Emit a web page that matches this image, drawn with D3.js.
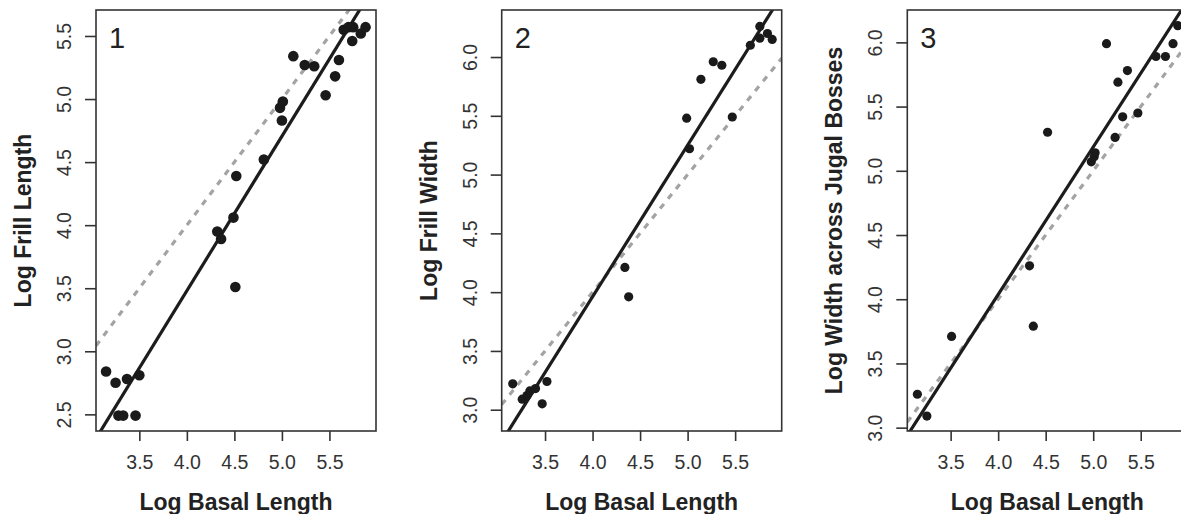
<!DOCTYPE html>
<html>
<head>
<meta charset="utf-8">
<script src="https://cdn.jsdelivr.net/npm/d3@7"></script>
<style>
  body { margin: 0; background: #fff; }
  text { font-family: "Liberation Sans", Arial, sans-serif; }
</style>
</head>
<body>
<div class="visHolder"></div>
<script>
// data (log values)
var basal1 = [3.15, 3.25, 3.37, 3.50, 3.28, 3.33, 3.46, 4.32, 4.36, 4.49, 4.52, 4.51, 4.81, 4.98, 5.01, 5.00, 5.12, 5.24, 5.34, 5.46, 5.56, 5.60, 5.65, 5.70, 5.75, 5.74, 5.83, 5.88];
var frillLength = [2.84, 2.75, 2.78, 2.81, 2.49, 2.49, 2.49, 3.95, 3.89, 4.06, 4.39, 3.51, 4.52, 4.93, 4.98, 4.83, 5.34, 5.27, 5.26, 5.03, 5.18, 5.31, 5.55, 5.57, 5.57, 5.46, 5.52, 5.57];

var basal2 = [3.16, 3.26, 3.31, 3.34, 3.40, 3.52, 3.47, 4.34, 4.38, 4.99, 5.02, 5.14, 5.27, 5.36, 5.47, 5.66, 5.76, 5.76, 5.84, 5.89];
var frillWidth = [3.22, 3.09, 3.12, 3.16, 3.18, 3.24, 3.05, 4.21, 3.96, 5.48, 5.22, 5.81, 5.96, 5.93, 5.49, 6.10, 6.26, 6.16, 6.20, 6.15];

var basal3 = [3.15, 3.25, 3.51, 4.33, 4.37, 4.52, 4.98, 5.01, 5.02, 5.14, 5.23, 5.26, 5.31, 5.36, 5.47, 5.66, 5.76, 5.84, 5.89];
var jugalWidth = [3.26, 3.09, 3.71, 4.26, 3.79, 5.30, 5.07, 5.11, 5.14, 5.99, 5.26, 5.69, 5.42, 5.78, 5.45, 5.89, 5.89, 5.99, 6.13];

// fitted lines [intercept, slope]; dashed line is isometry y = x
var fit1 = [-1.42, 1.225];
var fit2 = [-1.195, 1.289];
var fit3 = [-0.555, 1.148];
var iso = [0, 1];

var xTicks = [3.5, 4.0, 4.5, 5.0, 5.5];
var yTicks1 = [2.5, 3.0, 3.5, 4.0, 4.5, 5.0, 5.5];
var yTicks2 = [3.0, 3.5, 4.0, 4.5, 5.0, 5.5, 6.0];
var yTicks3 = [3.0, 3.5, 4.0, 4.5, 5.0, 5.5, 6.0];

var xDomain = [3.044, 5.99];
var yDomain1 = [2.368, 5.706];
var yDomain2 = [2.819, 6.40];
var yDomain3 = [2.974, 6.252];

var panels = [
  { id: 1, label: "1", xs: basal1, ys: frillLength, fit: fit1, yTicks: yTicks1, yDomain: yDomain1, ytitle: "Log Frill Length", left: 96, r: 5.3 },
  { id: 2, label: "2", xs: basal2, ys: frillWidth, fit: fit2, yTicks: yTicks2, yDomain: yDomain2, ytitle: "Log Frill Width", left: 501.7, r: 4.6 },
  { id: 3, label: "3", xs: basal3, ys: jugalWidth, fit: fit3, yTicks: yTicks3, yDomain: yDomain3, ytitle: "Log Width across Jugal Bosses", left: 907.3, r: 4.6 }
];

var W = 1181, H = 514;
var plotTop = 10, plotBottom = 431, pw = 280;

var svg = d3.select(".visHolder")
  .append("svg")
  .attr("width", W)
  .attr("height", H);

panels.forEach(function(p) {
  var x = d3.scaleLinear().domain(xDomain).range([p.left, p.left + pw]);
  var y = d3.scaleLinear().domain(p.yDomain).range([plotBottom, plotTop]);

  var g = svg.append("g");

  g.append("clipPath")
    .attr("id", "clip" + p.id)
    .append("rect")
    .attr("x", p.left).attr("y", plotTop)
    .attr("width", pw).attr("height", plotBottom - plotTop);

  var plot = g.append("g").attr("clip-path", "url(#clip" + p.id + ")");

  // lines
  function lineFor(c) {
    return [[xDomain[0], c[0] + c[1] * xDomain[0]], [xDomain[1], c[0] + c[1] * xDomain[1]]];
  }
  var line = d3.line().x(function(d) { return x(d[0]); }).y(function(d) { return y(d[1]); });

  plot.append("path")
    .attr("d", line(lineFor(iso)))
    .attr("fill", "none")
    .attr("stroke", "#a3a3a3")
    .attr("stroke-width", 3.2)
    .attr("stroke-dasharray", "6,6.6");

  plot.append("path")
    .attr("d", line(lineFor(p.fit)))
    .attr("fill", "none")
    .attr("stroke", "#1c1c1c")
    .attr("stroke-width", 3.2);

  plot.selectAll(".dot")
    .data(p.xs.map(function(v, i) { return [v, p.ys[i]]; }))
    .enter()
    .append("circle")
    .attr("class", "dot")
    .attr("cx", function(d) { return x(d[0]); })
    .attr("cy", function(d) { return y(d[1]); })
    .attr("r", p.r)
    .style("fill", "#1a1a1a");

  // box
  g.append("rect")
    .attr("x", p.left).attr("y", plotTop)
    .attr("width", pw).attr("height", plotBottom - plotTop)
    .attr("fill", "none")
    .attr("stroke", "#333")
    .attr("stroke-width", 1.6);

  // x axis
  var xa = g.append("g")
    .attr("transform", "translate(0," + plotBottom + ")")
    .call(d3.axisBottom(x).tickValues(xTicks).tickSize(10).tickSizeOuter(0).tickFormat(d3.format(".1f")));
  xa.select(".domain").remove();
  xa.selectAll(".tick line").attr("stroke", "#333").attr("stroke-width", 1.6);
  xa.selectAll(".tick text")
    .attr("y", 38).attr("dy", 0)
    .attr("fill", "#333")
    .style("font-size", "19.5px");

  // y axis
  var ya = g.append("g")
    .attr("transform", "translate(" + p.left + ",0)")
    .call(d3.axisLeft(y).tickValues(p.yTicks).tickSize(11).tickSizeOuter(0).tickFormat(d3.format(".1f")));
  ya.select(".domain").remove();
  ya.selectAll(".tick line").attr("stroke", "#333").attr("stroke-width", 1.6);
  ya.selectAll(".tick text")
    .attr("transform", "rotate(-90)")
    .attr("x", 0).attr("y", -32).attr("dy", "0.36em")
    .style("text-anchor", "middle")
    .attr("fill", "#333")
    .style("font-size", "19.5px");

  // titles
  g.append("text")
    .text("Log Basal Length")
    .attr("x", p.left + pw / 2)
    .attr("y", 510)
    .style("text-anchor", "middle")
    .style("font-size", "23px")
    .style("font-weight", "bold")
    .attr("fill", "#222");

  g.append("text")
    .text(p.ytitle)
    .attr("transform", "translate(" + (p.left - 65) + "," + ((plotTop + plotBottom) / 2) + ") rotate(-90)")
    .style("text-anchor", "middle")
    .style("font-size", "23px")
    .style("font-weight", "bold")
    .attr("fill", "#222");

  g.append("text")
    .text(p.label)
    .attr("x", p.left + 13)
    .attr("y", 48)
    .style("font-size", "29px")
    .attr("fill", "#222");
});
</script>
</body>
</html>
